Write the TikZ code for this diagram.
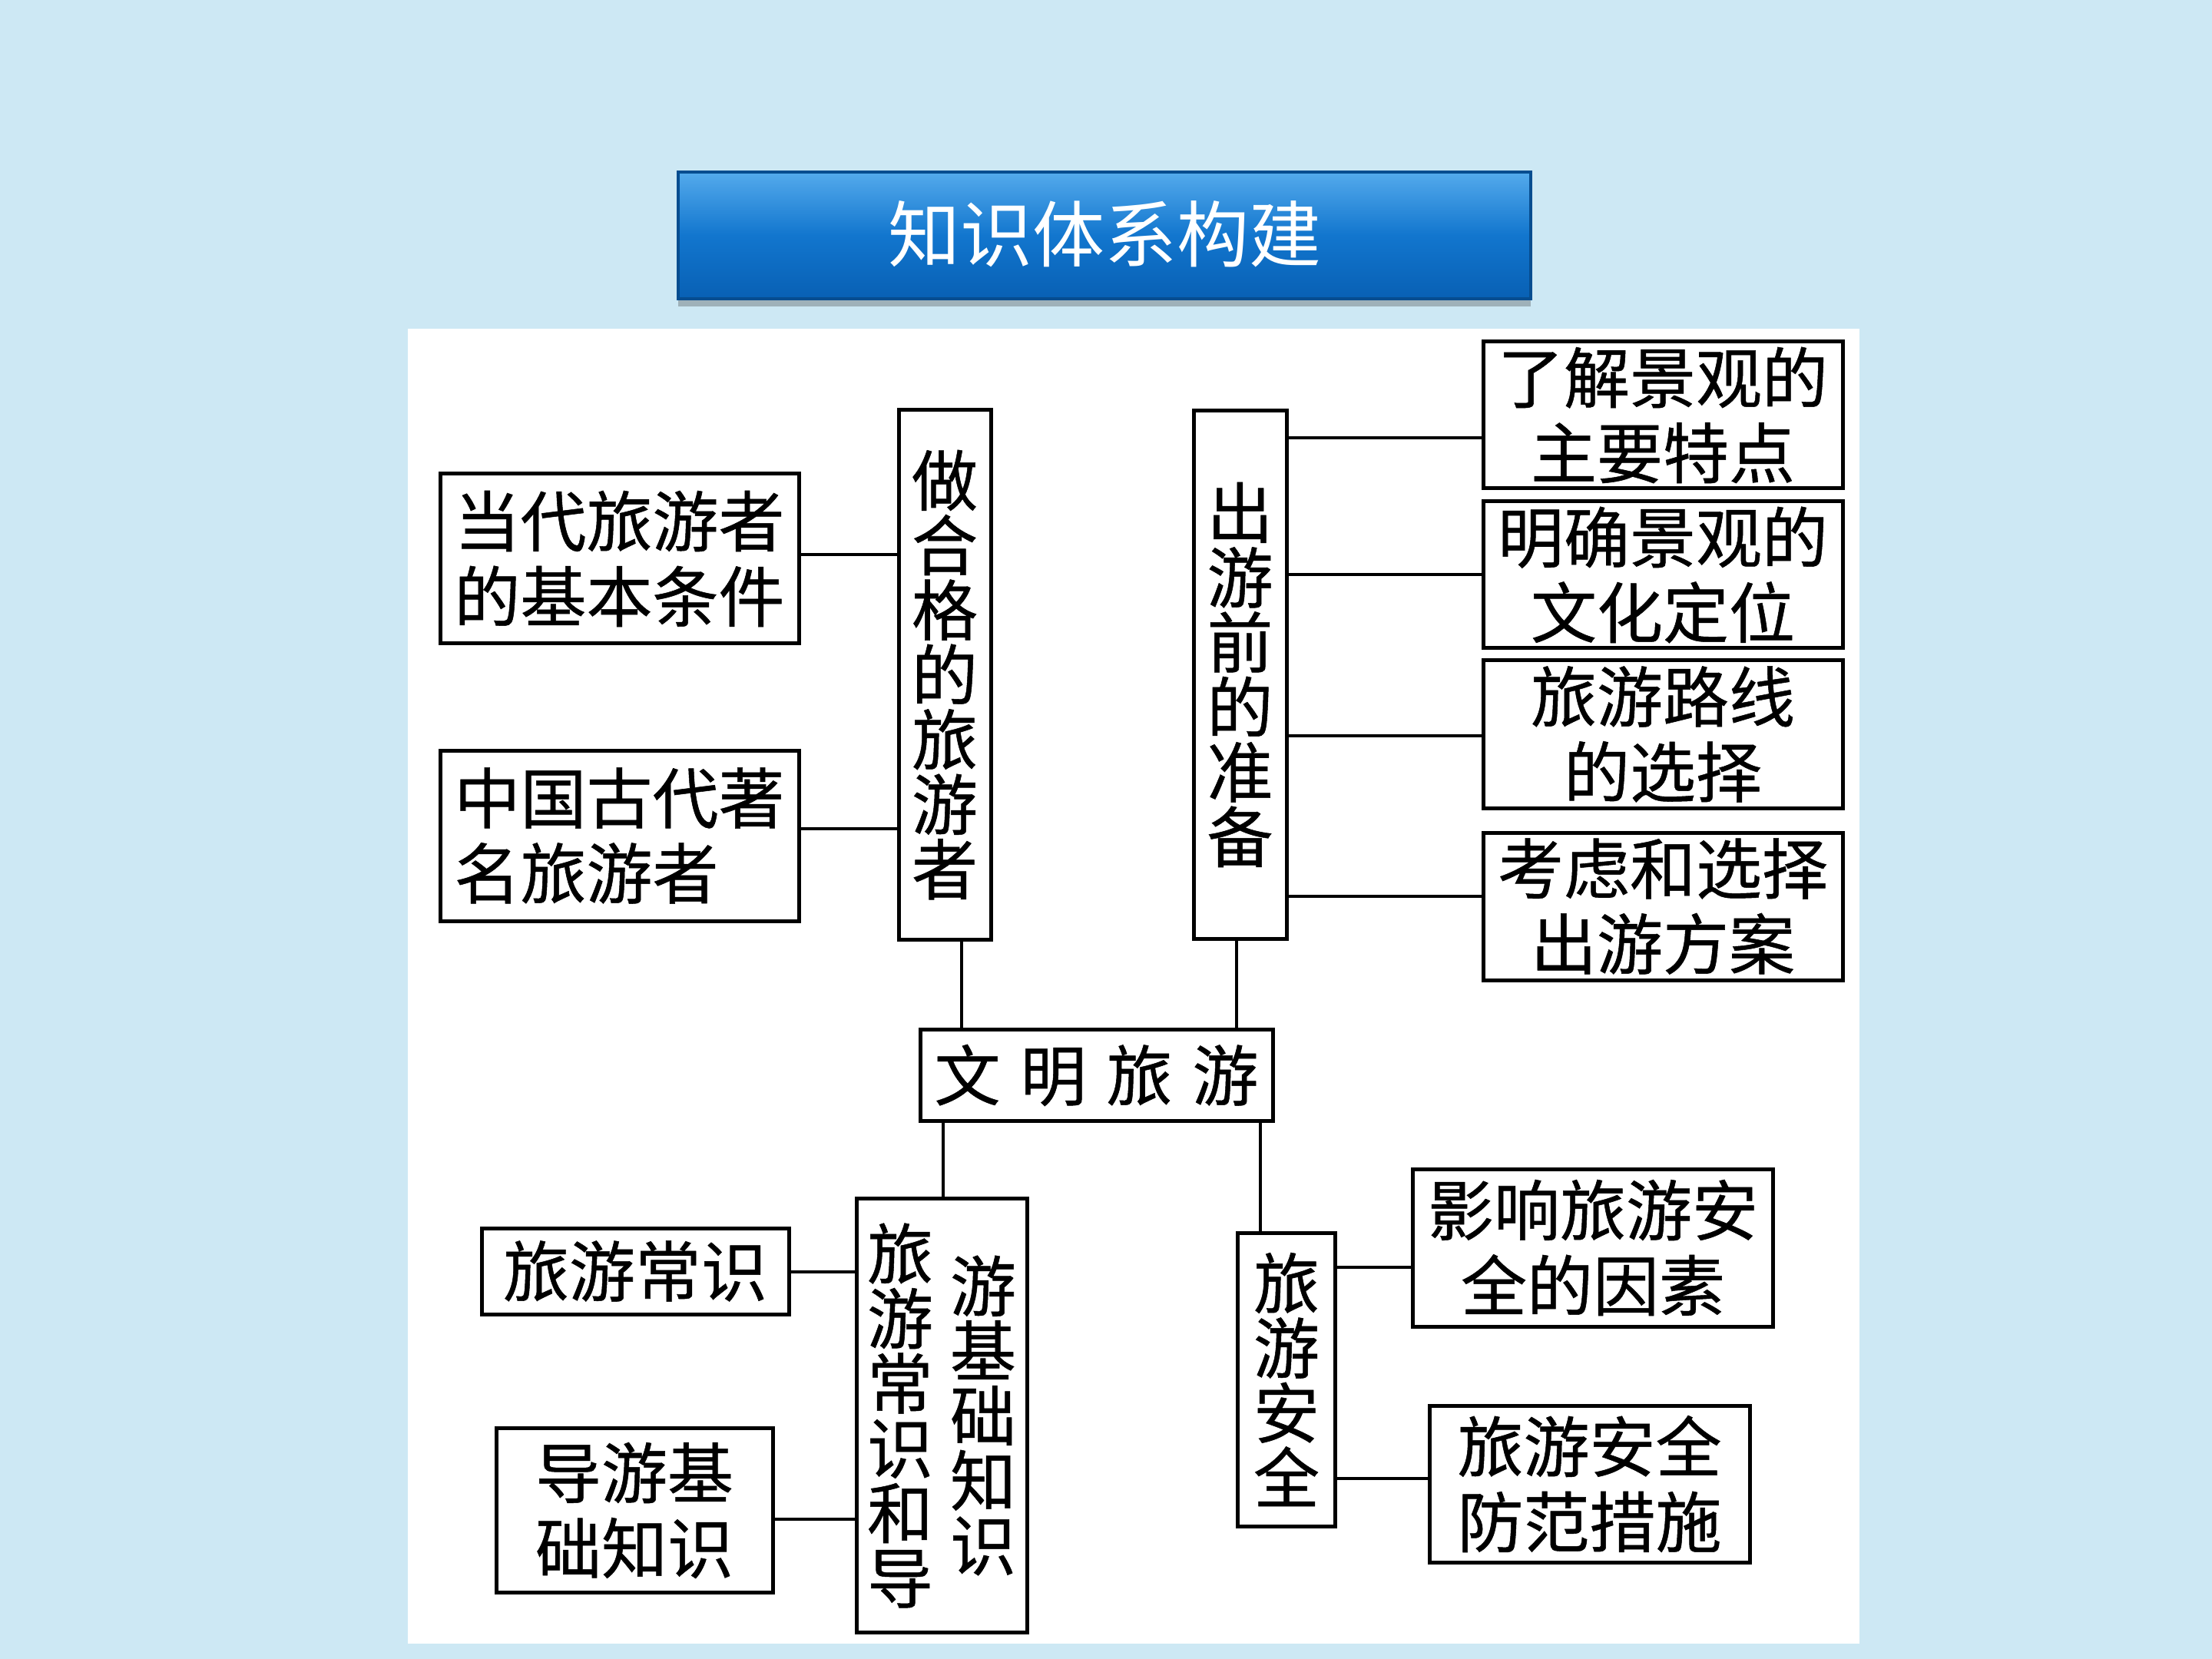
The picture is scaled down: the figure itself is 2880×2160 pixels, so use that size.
\documentclass[tikz,border=0pt]{standalone}
\usepackage{fontspec}
\newfontfamily\cjk[FakeBold=0.6]{Noto Sans CJK SC}
\newfontfamily\cjktitle{Noto Sans CJK SC}
\usetikzlibrary{shadows}
\definecolor{bgblue}{RGB}{205,232,244}
\definecolor{ttop}{RGB}{84,170,236}
\definecolor{tmid}{RGB}{18,118,206}
\definecolor{tbot}{RGB}{8,96,180}
\newcommand\hz{\cjk\fontsize{21.5}{24.5}\selectfont}
\newcommand\vz{\cjk\fontsize{21.5}{21.1}\selectfont}
\newcommand\vcol[1]{\parbox[c]{21.5pt}{\centering #1}}
\tikzset{
  box/.style={draw=black, line width=1.25pt, fill=white, inner sep=0pt, align=center, font=\hz},
  vbox/.style={box, font=\vz},
  conn/.style={line width=1pt},
  titlebox/.style={draw=tbot!80!black, line width=0.8pt, inner sep=0pt, top color=ttop, bottom color=tbot, middle color=tmid,
    text=white, font=\cjktitle\fontsize{23.5}{28}\selectfont,
    drop shadow={shadow xshift=0pt, shadow yshift=-2.5pt, opacity=0.35, fill=black!70}}
}
\begin{document}
\begin{tikzpicture}[x=0.25pt, y=-0.25pt]
\useasboundingbox (0,0) rectangle (2880,2160);
\fill[bgblue] (0,0) rectangle (2880,2160);
\fill[white] (531,428) rectangle (2421,2140);

% title
\node[titlebox, minimum width=277.5pt, minimum height=41.25pt] (title) at (1438,306.5) {\raisebox{3pt}{知识体系构建}};

% left branch
\node[box, minimum width=116.75pt, minimum height=55.25pt] (n1) at (806.5,727.5) {当代旅游者\\的基本条件};
\node[box, align=left, minimum width=116.75pt, minimum height=55.5pt] (n2) at (806.5,1088) {中国古代著\\名旅游者};
\node[vbox, minimum width=30pt, minimum height=172.25pt] (n3) at (1230,878.5) {做\\合\\格\\的\\旅\\游\\者};

% right branch
\node[vbox, minimum width=30.25pt, minimum height=171.75pt] (n4) at (1614.5,878.5) {出\\游\\前\\的\\准\\备};
\node[box, minimum width=117pt, minimum height=47.75pt] (n5) at (2165,540.5) {了解景观的\\主要特点};
\node[box, minimum width=117pt, minimum height=47.75pt] (n6) at (2165,748.5) {明确景观的\\文化定位};
\node[box, minimum width=117pt, minimum height=48pt] (n7) at (2165,956) {旅游路线\\的选择};
\node[box, minimum width=117pt, minimum height=48pt] (n8) at (2165,1180) {考虑和选择\\出游方案};

% center
\node[box, minimum width=114.75pt, minimum height=29.75pt] (n9) at (1427.5,1400) {文\hspace{6.5pt}明\hspace{6.5pt}旅\hspace{6.5pt}游};

% lower left
\node[box, minimum width=100pt, minimum height=28pt] (n10) at (827,1655) {旅游常识};
\node[box, minimum width=90pt, minimum height=53.5pt] (n11) at (826,1966.5) {导游基\\础知识};
\node[vbox, minimum width=55.5pt, minimum height=141.25pt] (n12) at (1226,1843)
  {\vcol{旅\\游\\常\\识\\和\\导}\hspace{5.5pt}\vcol{游\\基\\础\\知\\识}};

% lower right
\node[vbox, minimum width=31.75pt, minimum height=95.5pt] (n13) at (1675,1796) {旅\\游\\安\\全};
\node[box, minimum width=117.25pt, minimum height=51.25pt] (n14) at (2074,1624.5) {影响旅游安\\全的因素};
\node[box, minimum width=104.25pt, minimum height=51pt] (n15) at (2069.5,1932) {旅游安全\\防范措施};

% connectors
\draw[conn] (n1.east |- 0,722) -- (n3.west |- 0,722);
\draw[conn] (n2.east |- 0,1079) -- (n3.west |- 0,1079);
\draw[conn] (n3.south -| 1252,0) -- (n9.north -| 1252,0);
\draw[conn] (n4.south -| 1610,0) -- (n9.north -| 1610,0);
\draw[conn] (n4.east |- 0,570) -- (n5.west |- 0,570);
\draw[conn] (n4.east |- 0,748) -- (n6.west |- 0,748);
\draw[conn] (n4.east |- 0,958) -- (n7.west |- 0,958);
\draw[conn] (n4.east |- 0,1167) -- (n8.west |- 0,1167);
\draw[conn] (n9.south -| 1227.5,0) -- (n12.north -| 1227.5,0);
\draw[conn] (n9.south -| 1640.5,0) -- (n13.north -| 1640.5,0);
\draw[conn] (n10.east |- 0,1656) -- (n12.west |- 0,1656);
\draw[conn] (n11.east |- 0,1978) -- (n12.west |- 0,1978);
\draw[conn] (n13.east |- 0,1650) -- (n14.west |- 0,1650);
\draw[conn] (n13.east |- 0,1925) -- (n15.west |- 0,1925);
\end{tikzpicture}
\end{document}
